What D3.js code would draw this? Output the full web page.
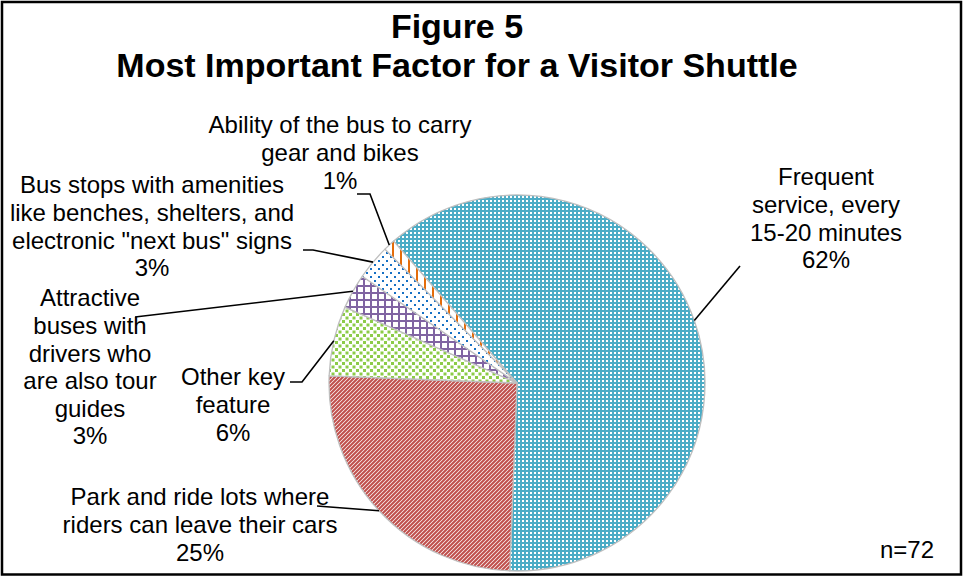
<!DOCTYPE html>
<html>
<head>
<meta charset="utf-8">
<script src="https://cdn.jsdelivr.net/npm/d3@7"></script>
<style>
  html, body { margin: 0; padding: 0; background: #fff; }
  svg { display: block; font-family: "Liberation Sans", Arial, sans-serif; }
</style>
</head>
<body>
<svg id="chart" width="964" height="577"></svg>
<script>
// Survey answers, in clockwise order from the largest slice
const categories = [
  "Frequent service, every 15-20 minutes",
  "Park and ride lots where riders can leave their cars",
  "Other key feature",
  "Attractive buses with drivers who are also tour guides",
  "Bus stops with amenities like benches, shelters, and electronic \"next bus\" signs",
  "Ability of the bus to carry gear and bikes"
];
const shares = [62, 25, 6, 3, 3, 1];
const labelLines = [
  ["Frequent", "service, every", "15-20 minutes"],
  ["Park and ride lots where", "riders can leave their cars"],
  ["Other key", "feature"],
  ["Attractive", "buses with", "drivers who", "are also tour", "guides"],
  ["Bus stops with amenities", "like benches, shelters, and", "electronic \"next bus\" signs"],
  ["Ability of the bus to carry", "gear and bikes"]
];
const titleLines = ["Figure 5", "Most Important Factor for a Visitor Shuttle"];
const sampleNote = "n=72";

const W = 964, H = 577;
const cx = 517, cy = 383, R = 188;
const startDeg = -41;

const svg = d3.select("#chart");
const defs = svg.append("defs");

// Fill patterns for each slice
function pat(id, w, h) {
  return defs.append("pattern").attr("id", id).attr("patternUnits", "userSpaceOnUse")
    .attr("width", w).attr("height", h);
}
// teal with small white squares
let p = pat("pBlue", 4, 4);
p.append("rect").attr("width", 4).attr("height", 4).attr("fill", "#4BACC6");
p.append("rect").attr("x", 1).attr("y", 1).attr("width", 2).attr("height", 2).attr("fill", "#fff");
// red wide upward diagonal
p = pat("pRed", 4, 4);
p.append("rect").attr("width", 4).attr("height", 4).attr("fill", "#fff");
p.append("path").attr("d", "M-1,1 L1,-1 M0,4 L4,0 M3,5 L5,3")
  .attr("stroke", "#C0504D").attr("stroke-width", 2.1);
// green confetti squares
p = pat("pGreen", 7, 7);
p.append("rect").attr("width", 7).attr("height", 7).attr("fill", "#fff");
p.append("rect").attr("x", 0).attr("y", 0).attr("width", 3).attr("height", 3).attr("fill", "#8CCB48");
p.append("rect").attr("x", 3.5).attr("y", 3.5).attr("width", 3).attr("height", 3).attr("fill", "#8CCB48");
// purple grid
p = pat("pPurple", 7, 7);
p.append("rect").attr("width", 7).attr("height", 7).attr("fill", "#fff");
p.append("path").attr("d", "M0,1 H7 M1,0 V7").attr("stroke", "#8064A2").attr("stroke-width", 2);
// blue dots on white
p = pat("pDots", 8, 8);
p.append("rect").attr("width", 8).attr("height", 8).attr("fill", "#fff");
p.append("rect").attr("x", 1).attr("y", 1).attr("width", 2).attr("height", 2).attr("fill", "#1670C4");
p.append("rect").attr("x", 5).attr("y", 5).attr("width", 2).attr("height", 2).attr("fill", "#1670C4");
// orange vertical stripes
p = pat("pOrange", 8, 8);
p.append("rect").attr("width", 8).attr("height", 8).attr("fill", "#fff");
p.append("rect").attr("x", 3).attr("y", 0).attr("width", 2).attr("height", 8).attr("fill", "#E46C0A");

const fills = ["url(#pBlue)", "url(#pRed)", "url(#pGreen)", "url(#pPurple)", "url(#pDots)", "url(#pOrange)"];

// Chart-area frame
svg.append("rect").attr("x", 2).attr("y", 2).attr("width", W - 5).attr("height", H - 4.5)
  .attr("fill", "#fff").attr("stroke", "#000").attr("stroke-width", 2.5);

// Title
const title = svg.append("text").attr("x", 457).attr("text-anchor", "middle")
  .attr("font-weight", "bold").attr("font-size", 34).attr("fill", "#000");
titleLines.forEach((t, i) => {
  title.append("tspan").attr("x", 457).attr("y", 26 + i * 39).attr("dy", "0.35em").text(t);
});

// Pie
const start = startDeg * Math.PI / 180;
const pie = d3.pie().sort(null).value(d => d).startAngle(start).endAngle(start + 2 * Math.PI);
const arcs = pie(shares);
const arc = d3.arc().innerRadius(0).outerRadius(R);

const g = svg.append("g").attr("transform", `translate(${cx},${cy})`);
g.selectAll("path.slice").data(arcs).join("path")
  .attr("class", "slice")
  .attr("d", arc)
  .attr("fill", (d, i) => fills[i])
  .attr("stroke", "#BFBFBF")
  .attr("stroke-width", 1.3)
  .attr("stroke-linejoin", "round");

// Label placement: block centre x, first-line y, and leader anchor points near the label
const labelLayout = [
  { x: 826, y: 177, leader: [[740, 266]] },
  { x: 200, y: 497, leader: [[317, 506]] },
  { x: 233, y: 377, leader: [[290, 382], [302, 382]] },
  { x: 90, y: 298, leader: [[135, 317]] },
  { x: 152, y: 185, leader: [[303, 250], [313, 250]] },
  { x: 340, y: 125, leader: [[357, 194], [370, 194]] }
];
const lineStep = 27.6;
const fmtPct = v => v + "%";

arcs.forEach((a, i) => {
  const L = labelLayout[i];
  const mid = (a.startAngle + a.endAngle) / 2;
  const rim = [cx + R * Math.sin(mid), cy - R * Math.cos(mid)];
  svg.append("path")
    .attr("d", d3.line()(L.leader.concat([rim])))
    .attr("fill", "none").attr("stroke", "#000").attr("stroke-width", 1.6);

  const lines = labelLines[i].concat([fmtPct(shares[i])]);
  const t = svg.append("text").attr("text-anchor", "middle").attr("font-size", 24).attr("fill", "#000");
  lines.forEach((s, k) => {
    t.append("tspan").attr("x", L.x).attr("y", L.y + k * lineStep).attr("dy", "0.35em").text(s);
  });
});

// Sample size
svg.append("text").attr("x", 934).attr("y", 550).attr("dy", "0.35em")
  .attr("text-anchor", "end").attr("font-size", 24).attr("fill", "#000").text(sampleNote);
</script>
</body>
</html>
